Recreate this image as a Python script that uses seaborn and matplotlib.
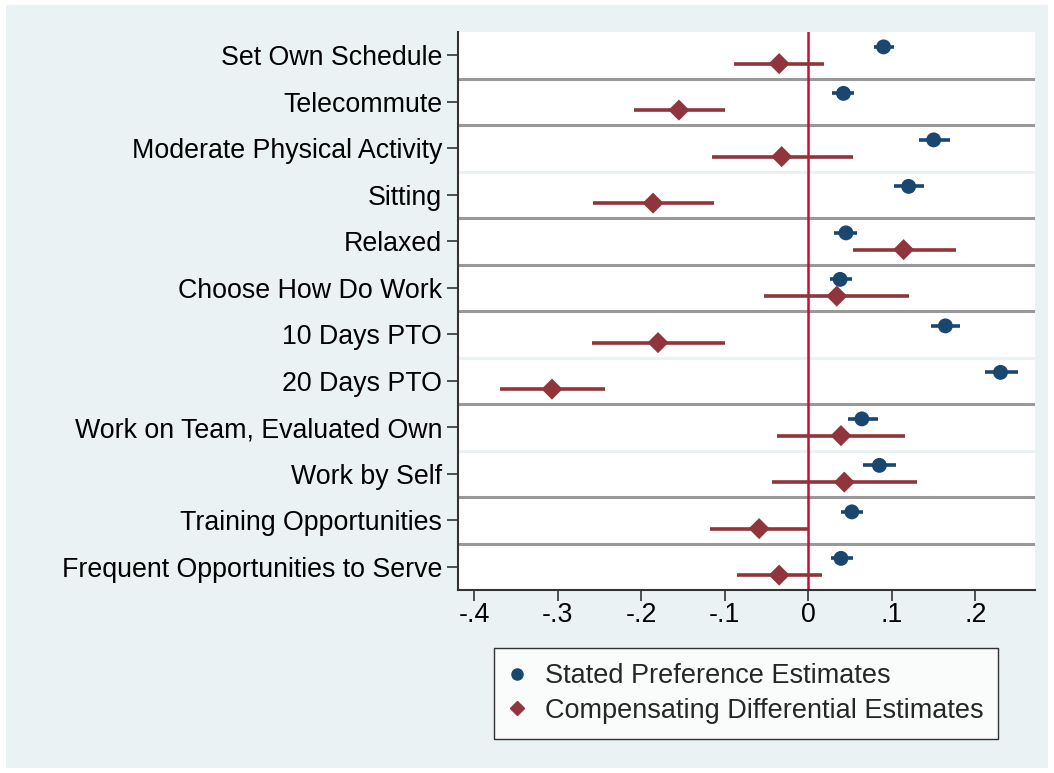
import numpy as np
import pandas as pd
import matplotlib
matplotlib.use("Agg")
import matplotlib.pyplot as plt
import seaborn as sns
from matplotlib.lines import Line2D
from matplotlib.patches import Rectangle

# Job attributes, top to bottom
attributes = [
    "Set Own Schedule", "Telecommute", "Moderate Physical Activity", "Sitting",
    "Relaxed", "Choose How Do Work", "10 Days PTO", "20 Days PTO",
    "Work on Team, Evaluated Own", "Work by Self", "Training Opportunities",
    "Frequent Opportunities to Serve",
]

# Stated preference estimates with 95% CI
sp_est = [0.090, 0.042, 0.150, 0.120, 0.045, 0.038, 0.164, 0.230, 0.064, 0.085, 0.052, 0.039]
sp_lo = [0.078, 0.028, 0.132, 0.102, 0.031, 0.026, 0.147, 0.211, 0.047, 0.065, 0.039, 0.027]
sp_hi = [0.103, 0.055, 0.169, 0.138, 0.058, 0.052, 0.182, 0.251, 0.083, 0.105, 0.065, 0.054]

# Compensating differential estimates with 95% CI
cd_est = [-0.035, -0.155, -0.032, -0.186, 0.114, 0.034, -0.180, -0.307, 0.039, 0.043, -0.059, -0.035]
cd_lo = [-0.089, -0.209, -0.115, -0.258, 0.053, -0.053, -0.259, -0.369, -0.037, -0.044, -0.118, -0.086]
cd_hi = [0.019, -0.100, 0.053, -0.113, 0.177, 0.121, -0.100, -0.244, 0.116, 0.130, 0.000, 0.016]

x_ticks = [-0.4, -0.3, -0.2, -0.1, 0.0, 0.1, 0.2]
x_tick_labels = ["-.4", "-.3", "-.2", "-.1", "0", ".1", ".2"]

series_names = ["Stated Preference Estimates", "Compensating Differential Estimates"]

BLUE = "#1a476f"
RED = "#90353b"
BG = "#eaf2f3"
FS = 19.3

sns.set_theme(style="white")
plt.rcParams["font.family"] = ["Liberation Sans", "DejaVu Sans"]

n = len(attributes)
rows = np.arange(n)
offset = 0.18

df = pd.concat([
    pd.DataFrame({"row": rows - offset, "est": sp_est, "lo": sp_lo, "hi": sp_hi,
                  "series": series_names[0]}),
    pd.DataFrame({"row": rows + offset, "est": cd_est, "lo": cd_lo, "hi": cd_hi,
                  "series": series_names[1]}),
], ignore_index=True)

fig = plt.figure(figsize=(10.54, 7.73), dpi=100, facecolor="white")
fig.patches.append(Rectangle((6 / 1054, 5 / 773), 1 - 12 / 1054, 1 - 10 / 773,
                             transform=fig.transFigure, facecolor=BG,
                             edgecolor="none", zorder=-10))
ax = fig.add_axes([458 / 1054, 1 - 590 / 773, (1035 - 458) / 1054, (590 - 32) / 773])
ax.set_facecolor("white")

# Row separators (some drawn in the faint background tone)
faint = {2, 6, 8}
for i in range(n - 1):
    ax.axhline(i + 0.5, color=(BG if i in faint else "#999999"),
               lw=2.2, zorder=1)

# Zero reference line
ax.axvline(0, color="#d10a33", lw=1.8, zorder=2)

# Confidence intervals
palette = {series_names[0]: BLUE, series_names[1]: RED}
for name, sub in df.groupby("series"):
    ax.hlines(sub["row"], sub["lo"], sub["hi"], color=palette[name], lw=2.6, zorder=3)

# Point estimates
sns.scatterplot(data=df, x="est", y="row", hue="series", style="series",
                markers={series_names[0]: "o", series_names[1]: "D"},
                palette=palette, s=115, edgecolor="none", linewidth=0,
                legend=False, ax=ax, zorder=4)

ax.set_xlim(-0.4195, 0.2713)
ax.set_ylim(n - 0.5, -0.5)
ax.set_yticks(rows)
ax.set_yticklabels(attributes, fontsize=FS)
ax.set_xticks(x_ticks)
ax.set_xticklabels(x_tick_labels, fontsize=FS)
ax.set_xlabel("")
ax.set_ylabel("")

for side in ["top", "right"]:
    ax.spines[side].set_visible(False)
for side in ["left", "bottom"]:
    ax.spines[side].set_color("#333333")
    ax.spines[side].set_linewidth(1.5)
ax.tick_params(axis="y", which="major", length=8, width=1.2, color="#333333",
               left=True, pad=3.5, labelcolor="black")
ax.tick_params(axis="x", which="major", length=8, width=1.2, color="#333333",
               bottom=True, pad=1, labelcolor="black")

handles = [
    Line2D([], [], ls="none", marker="o", color=BLUE, markersize=8),
    Line2D([], [], ls="none", marker="D", color=RED, markersize=7.5),
]
leg = fig.legend(handles, series_names, loc="center",
                 bbox_to_anchor=(746 / 1054, 1 - 693.5 / 773),
                 fontsize=19.5, frameon=True, fancybox=False, handlelength=0.6,
                 handletextpad=0.75, borderpad=0.55, labelspacing=0.32,
                 borderaxespad=0)
leg.get_frame().set_edgecolor("black")
leg.get_frame().set_linewidth(1.0)
leg.get_frame().set_facecolor("white")

fig.savefig("out.png", dpi=100, facecolor="white")
